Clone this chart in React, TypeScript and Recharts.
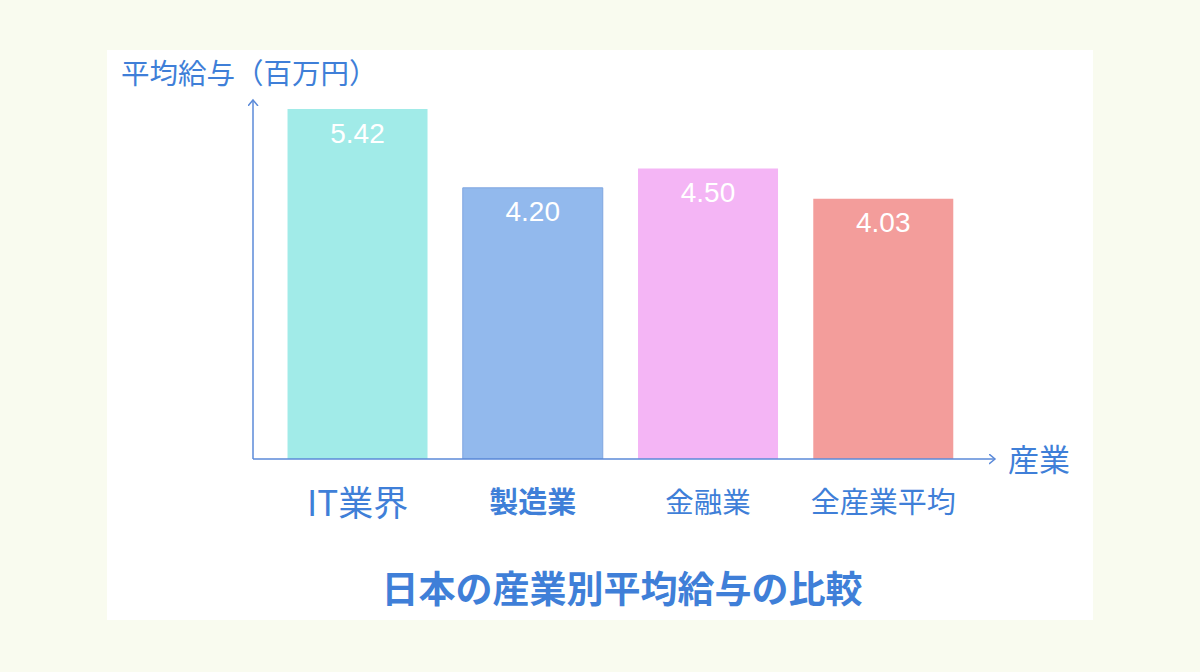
import React from 'react';
import { BarChart, Bar, XAxis, YAxis, Cell, LabelList } from 'recharts';

const industries = ['IT業界', '製造業', '金融業', '全産業平均'];
const salaries = [5.42, 4.2, 4.5, 4.03];
const valueLabels = ['5.42', '4.20', '4.50', '4.03'];

const barColors = ['#a1ebe8', '#92b9ed', '#f4b5f5', '#f39d9b'];
const barStrokes = ['none', '#7fa6e0', 'none', 'none'];
// each category label is drawn at its own size in the original
const tickStyles = [
  { fontSize: 35, fontWeight: 400 },
  { fontSize: 29, fontWeight: 700 },
  { fontSize: 28.5, fontWeight: 400 },
  { fontSize: 29, fontWeight: 400 },
];

const data = industries.map((name, i) => ({ name, salary: salaries[i], label: valueLabels[i] }));

const blue = '#3f7fd8';
const axisColor = '#5b8ad9';
const font = '"Noto Sans CJK JP", "Noto Sans", sans-serif';

function CategoryTick(props: any) {
  const { x, y, payload, index } = props;
  const st = tickStyles[index] || tickStyles[2];
  return (
    <text
      x={x}
      y={y + 41}
      textAnchor="middle"
      dominantBaseline="central"
      fill={blue}
      fontFamily={font}
      fontSize={st.fontSize}
      fontWeight={st.fontWeight}
    >
      {payload.value}
    </text>
  );
}

function ValueLabel(props: any) {
  const { x, y, width, value } = props;
  return (
    <text
      x={x + width / 2}
      y={y + 24}
      textAnchor="middle"
      dominantBaseline="central"
      fill="#ffffff"
      fontFamily='"Liberation Sans", Arial, sans-serif'
      fontSize={28}
    >
      {value}
    </text>
  );
}

export default function App() {
  return (
    <div
      style={{
        position: 'absolute',
        left: 0,
        top: 0,
        width: 1200,
        height: 672,
        background: '#f9fbef',
        fontFamily: font,
      }}
    >
      <svg width={0} height={0} style={{ position: 'absolute' }}>
        <defs>
          <marker
            id="axisArrow"
            markerUnits="userSpaceOnUse"
            markerWidth={12}
            markerHeight={12}
            refX={6}
            refY={5}
            orient="auto-start-reverse"
          >
            <path d="M0,0 L6,5 L0,10" fill="none" stroke={axisColor} strokeWidth={1.5} />
          </marker>
        </defs>
      </svg>
      <div
        style={{
          position: 'absolute',
          left: 107,
          top: 50,
          width: 986,
          height: 570,
          background: '#ffffff',
        }}
      >
        <div
          style={{
            position: 'absolute',
            left: 14,
            top: 6,
            fontSize: 28.5,
            lineHeight: '32px',
            color: blue,
            whiteSpace: 'nowrap',
          }}
        >
          平均給与（百万円）
        </div>
        <div
          style={{
            position: 'absolute',
            left: 901,
            top: 392,
            fontSize: 31,
            lineHeight: '32px',
            color: blue,
            whiteSpace: 'nowrap',
          }}
        >
          産業
        </div>
        <BarChart
          width={986}
          height={570}
          data={data}
          margin={{ top: 50, right: 98, bottom: 101, left: 86 }}
          barCategoryGap="10%"
        >
          <XAxis
            dataKey="name"
            height={60}
            padding={{ left: 17, right: 24 }}
            tickLine={false}
            tickSize={0}
            tickMargin={0}
            axisLine={{ stroke: axisColor, strokeWidth: 1.5, markerEnd: 'url(#axisArrow)' }}
            tick={<CategoryTick />}
            interval={0}
          />
          <YAxis
            width={60}
            type="number"
            domain={[0, 5.56]}
            allowDataOverflow
            tick={false}
            tickLine={false}
            axisLine={{ stroke: axisColor, strokeWidth: 1.5, markerStart: 'url(#axisArrow)' }}
          />
          <Bar dataKey="salary" isAnimationActive={false}>
            {data.map((d, i) => (
              <Cell key={d.name} fill={barColors[i]} stroke={barStrokes[i]} strokeWidth={1} />
            ))}
            <LabelList dataKey="label" content={<ValueLabel />} />
          </Bar>
        </BarChart>
        <div
          style={{
            position: 'absolute',
            left: 0,
            width: 1030,
            top: 516,
            textAlign: 'center',
            fontSize: 37,
            lineHeight: '42px',
            fontWeight: 700,
            color: blue,
            whiteSpace: 'nowrap',
          }}
        >
          日本の産業別平均給与の比較
        </div>
      </div>
    </div>
  );
}
